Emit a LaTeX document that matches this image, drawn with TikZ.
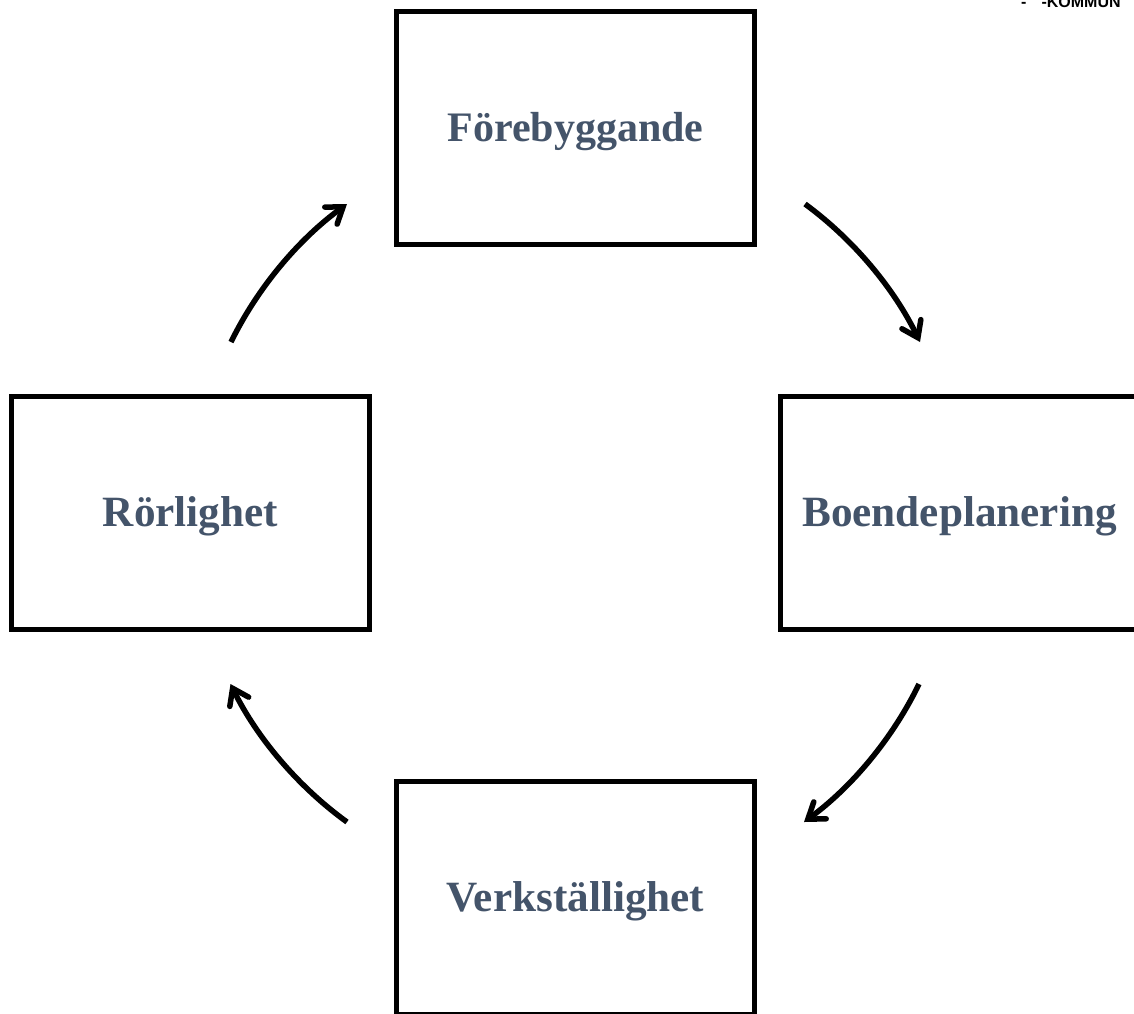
\documentclass[tikz,border=0pt]{standalone}
\usepackage{fontspec}
\setmainfont{Liberation Serif}
\newfontfamily\logofont{Liberation Sans}
\usetikzlibrary{arrows.meta}
\definecolor{labelblue}{HTML}{44546A}
\tikzset{
  x=1pt,y=-1pt,
  stagebox/.style={draw=black,line width=5.5pt,fill=white,minimum width=358pt,minimum height=233pt,inner sep=0pt,outer sep=0pt,
    text=labelblue,text height=30pt,text depth=3pt,font=\fontsize{43.2}{48}\selectfont\bfseries},
  flowarrow/.style={draw=black,line width=5.5pt,looseness=0.85,-{Straight Barb[length=15pt,width=21pt,line width=5.5pt,line cap=round,line join=miter]}},
}
\begin{document}
\begin{tikzpicture}
\useasboundingbox (0,0) rectangle (1134,1013);
\clip (0,0) rectangle (1134,1013);
\node[stagebox,font=\fontsize{42}{48}\selectfont\bfseries] (a) at (575.5,128) {Förebyggande};
\node[stagebox] (b) at (959.5,513) {Boendeplanering};
\node[stagebox] (c) at (575.5,898) {Verkställighet};
\node[stagebox] (d) at (190.5,513) {Rörlighet};
\coordinate (a1) at (805,204);
\coordinate (b0) at (920,342);
\coordinate (b1) at (919,684);
\coordinate (c0) at (804,822);
\coordinate (c1) at (347,822);
\coordinate (d0) at (230.5,684);
\coordinate (d1) at (231,342);
\coordinate (a0) at (347,204);
\draw[flowarrow] (a1) to[bend left=14] (b0);
\draw[flowarrow] (b1) to[bend left=14] (c0);
\draw[flowarrow] (c1) to[bend left=14] (d0);
\draw[flowarrow] (d1) to[bend left=14] (a0);
\node[font=\logofont\bfseries\fontsize{16}{16}\selectfont,text=black,anchor=base west,inner sep=0pt] (logo) at (1021,7.5) {-\hspace{15pt}-KOMMUN};
\end{tikzpicture}
\end{document}
